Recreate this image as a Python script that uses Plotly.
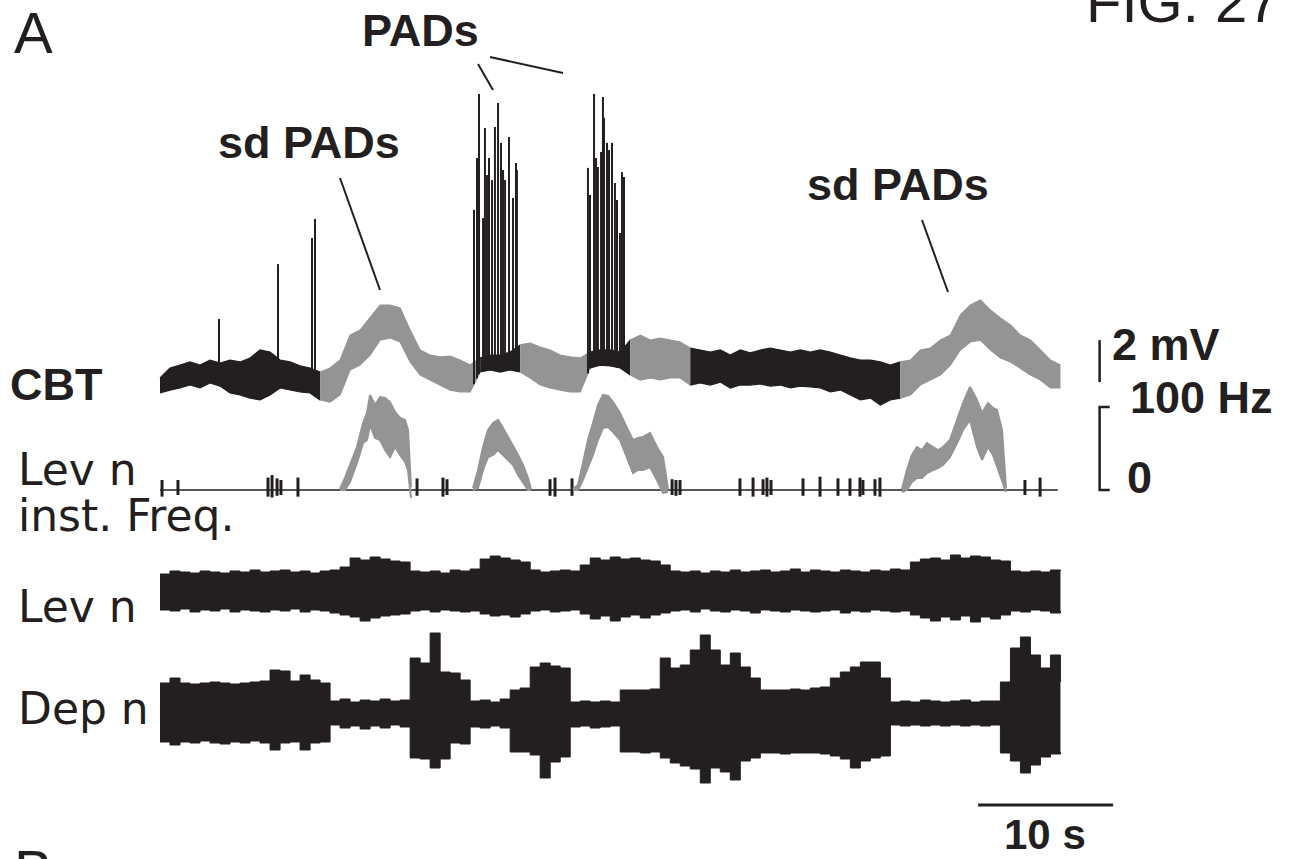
import numpy as np
import plotly.graph_objects as go

W, H = 1292, 859
BLACK = "#231f20"
GRAY = "#949494"

# ---------------- data ----------------
SWEEP_S = 66.7          # sweep duration (s)
N_SAMPLES = 91          # envelope samples across the sweep

# CBT (cord dorsum / root) potential envelope, mV
cbt_hi = [0.10, 0.57, 0.71, 0.86, 0.71, 0.95, 0.81, 0.95, 0.86, 1.05,
          1.43, 1.33, 0.95, 0.86, 0.67, 0.57, 0.38, 0.57, 0.95, 2.14,
          2.38, 2.95, 3.57, 3.57, 3.43, 2.38, 1.43, 1.19, 1.10, 1.14,
          0.95, 0.71, 1.05, 1.19, 1.19, 1.33, 1.67, 1.76, 1.57, 1.43,
          1.19, 1.10, 1.05, 1.33, 1.43, 1.43, 1.33, 1.90, 2.14, 1.90,
          2.00, 1.90, 1.81, 1.52, 1.43, 1.33, 1.43, 1.19, 1.43, 1.29,
          1.43, 1.52, 1.43, 1.33, 1.43, 1.33, 1.43, 1.33, 1.19, 1.05,
          0.95, 0.95, 0.86, 0.71, 0.86, 0.95, 1.43, 1.52, 1.90, 2.14,
          3.10, 3.57, 3.81, 3.33, 2.95, 2.62, 2.14, 1.90, 1.43, 0.95,
          0.71]
cbt_lo = [-0.62, -0.48, -0.38, -0.24, -0.38, -0.14, -0.29, -0.62, -0.71, -0.86,
          -0.95, -0.71, -0.38, -0.48, -0.57, -0.62, -0.95, -1.05, -0.71, 0.48,
          0.71, 1.19, 1.90, 2.00, 1.81, 0.86, 0.24, 0.00, -0.24, -0.48,
          -0.57, -0.57, 0.38, 0.48, 0.38, 0.48, 0.38, 0.10, -0.24, -0.38,
          -0.48, -0.57, -0.57, 0.57, 0.71, 0.67, 0.57, 0.24, 0.00, 0.10,
          0.00, 0.10, 0.10, -0.24, -0.14, -0.24, -0.10, -0.38, -0.24, -0.24,
          -0.19, -0.29, -0.24, -0.38, -0.29, -0.33, -0.38, -0.57, -0.48, -0.71,
          -0.95, -0.86, -1.19, -0.95, -0.86, -0.71, -0.24, 0.00, 0.24, 0.71,
          1.43, 1.81, 1.90, 1.43, 1.05, 0.86, 0.57, 0.24, 0.00, -0.38,
          -0.38]
# sd PAD episodes (drawn grey), s
sd_pad_intervals = [(11.6, 23.2), (26.5, 31.5), (34.6, 38.7), (54.8, 66.7)]

# PAD spikes on CBT: time (s), peak (mV)
spike_t = [4.37, 8.74, 11.26, 11.48,
           23.26, 23.48, 23.63, 23.93, 24.07, 24.22, 24.37, 24.59, 24.81, 25.04,
           25.26, 25.41, 25.56, 25.85, 26.15, 26.37, 26.44,
           31.70, 31.85, 32.15, 32.30, 32.44, 32.67, 32.81, 32.89, 33.11, 33.26,
           33.48, 33.70, 33.85, 34.07, 34.22, 34.37]
spike_mv = [2.90, 5.52, 6.76, 7.67,
            8.10, 10.57, 13.62, 7.71, 12.00, 9.76, 10.57, 9.52, 12.05, 13.19,
            11.29, 10.00, 9.52, 11.57, 8.67, 10.33, 10.00,
            10.10, 8.81, 13.62, 10.57, 10.14, 10.86, 13.48, 12.48, 11.29, 10.95,
            11.29, 9.38, 8.57, 7.00, 9.90, 9.67]

# Lev n instantaneous frequency: grey episodes (Hz envelope)
hump1_t = [13.33, 13.70, 14.07, 14.59, 15.04, 15.33, 15.56, 15.93, 16.30, 16.67,
           17.04, 17.41, 17.78, 18.15, 18.37, 18.59]
hump1_hi = [1.2, 14.5, 30.1, 51.8, 80.7, 92.8, 114.5, 102.4, 112.0, 110.8,
            106.0, 94.0, 86.8, 84.4, 72.3, 3.6]
hump1_lo = [0, 0, 9.6, 32.5, 56.6, 60.3, 78.3, 62.7, 60.3, 48.2,
            39.8, 51.8, 42.2, 33.7, 24.1, -9.6]
hump2_t = [23.19, 23.56, 23.93, 24.30, 24.67, 25.04, 25.41, 25.78, 26.15, 26.52,
           26.89, 27.26, 27.48]
hump2_hi = [2.4, 24.1, 51.8, 72.3, 80.7, 84.4, 74.7, 63.9, 54.2, 42.2, 30.1, 14.5, 1.2]
hump2_lo = [0, 2.4, 24.1, 39.8, 42.2, 48.2, 42.2, 36.2, 30.1, 18.1, 9.6, 0, 0]
hump3_t = [30.59, 30.96, 31.33, 31.70, 32.07, 32.44, 32.81, 33.19, 33.56, 34.07,
           34.59, 35.04, 35.41, 35.78, 36.30, 36.81, 37.26, 37.63]
hump3_hi = [1.2, 6.0, 32.5, 60.3, 80.7, 102.4, 114.5, 113.3, 106.0, 92.8,
            74.7, 60.3, 62.7, 63.9, 68.7, 51.8, 39.8, 1.2]
hump3_lo = [0, 0, 12.1, 26.5, 42.2, 60.3, 74.7, 75.9, 69.9, 60.3,
            38.6, 20.5, 24.1, 24.1, 27.7, 12.1, -3.6, -2.4]
hump4_t = [54.96, 55.33, 55.70, 56.07, 56.44, 56.81, 57.26, 57.63, 58.00, 58.52,
           59.04, 59.48, 60.00, 60.52, 60.89, 61.33, 61.70, 62.00, 62.37, 62.67]
hump4_hi = [1.2, 24.1, 42.2, 51.8, 48.2, 56.6, 51.8, 48.2, 51.8, 60.3,
            84.4, 104.8, 124.1, 108.4, 92.8, 104.8, 98.8, 96.4, 72.3, 2.4]
hump4_lo = [-2.4, 0, 9.6, 14.5, 14.5, 20.5, 24.1, 26.5, 30.1, 39.8,
            56.6, 72.3, 84.4, 51.8, 36.2, 51.8, 42.2, 27.7, 12.1, -2.4]

# isolated Lev n spikes in the frequency trace
blip_t = [0.15, 1.33, 8.00, 8.30, 8.67, 8.96, 10.22, 19.04, 20.96, 21.26,
          28.89, 29.26, 30.52, 37.93, 38.22, 38.52, 42.96, 43.93, 44.67, 44.96,
          45.26, 47.63, 48.89, 50.22, 51.11, 51.85, 52.07, 52.96, 53.33, 64.07,
          65.19]
blip_max_hz = [12, 12, 15, 18, 14, 12, 15, 14, 15, 13,
               13, 15, 14, 13, 12, 12, 14, 15, 13, 15,
               12, 14, 16, 14, 14, 15, 12, 13, 15, 12,
               15]
blip_min_hz = [-8, -6, -8, -9, -7, -6, -8, -7, -8, -6,
               -7, -8, -7, -6, -7, -6, -7, -8, -6, -8,
               -6, -7, -8, -7, -7, -8, -6, -7, -8, -6,
               -8]

# Lev n neurogram envelope (a.u.)
lev_hi = [1.7, 2.0, 1.9, 1.8, 2.0, 1.9, 1.8, 2.0, 1.9, 2.1,
          1.9, 2.0, 2.1, 1.9, 2.0, 1.8, 2.0, 2.1, 2.4, 3.3,
          3.1, 3.4, 3.2, 3.0, 2.9, 2.0, 1.9, 2.0, 1.8, 2.1,
          2.0, 2.2, 3.2, 3.5, 3.3, 3.1, 2.9, 2.1, 1.9, 2.0,
          2.1, 2.0, 2.6, 3.3, 3.1, 3.4, 3.2, 3.3, 3.1, 3.0,
          2.6, 2.0, 1.9, 2.0, 1.8, 2.0, 1.9, 2.1, 1.9, 2.0,
          2.1, 1.9, 2.0, 2.2, 1.9, 2.1, 2.0, 1.9, 2.1, 2.0,
          1.9, 2.1, 2.0, 2.2, 2.1, 2.9, 3.2, 3.3, 3.1, 3.6,
          3.3, 3.5, 3.4, 3.1, 3.0, 2.0, 1.9, 2.0, 1.9, 2.1,
          2.0]
lev_lo = [-1.9, -2.0, -1.8, -2.1, -1.9, -2.0, -1.8, -2.1, -1.9, -2.0,
          -2.1, -1.9, -2.0, -1.8, -2.1, -1.9, -2.0, -2.2, -2.4, -2.6,
          -3.0, -2.7, -2.5, -2.4, -2.3, -2.0, -1.9, -2.1, -1.9, -2.0,
          -2.1, -2.0, -2.3, -2.5, -2.4, -2.6, -2.3, -2.0, -1.9, -2.1,
          -2.0, -1.9, -2.3, -2.8, -2.5, -3.0, -2.6, -2.4, -2.7, -2.4,
          -2.2, -2.0, -1.9, -2.1, -1.8, -2.0, -2.1, -1.9, -2.0, -2.2,
          -1.9, -2.0, -2.1, -1.9, -2.0, -2.1, -2.0, -1.9, -2.2, -2.0,
          -2.1, -1.9, -2.0, -2.1, -2.0, -2.4, -2.7, -3.0, -2.6, -2.9,
          -2.5, -3.1, -2.6, -2.8, -2.4, -2.0, -2.1, -1.9, -2.0, -2.2,
          -2.0]

# Dep n neurogram envelope (a.u.)
dep_hi = [3.0, 3.5, 3.0, 2.9, 3.0, 3.1, 3.0, 2.9, 3.0, 3.1,
          3.2, 4.3, 4.2, 3.2, 3.8, 3.3, 3.0, 1.2, 1.4, 1.1,
          1.3, 1.2, 1.4, 1.2, 1.3, 5.5, 5.0, 8.0, 4.1, 4.0,
          3.3, 1.2, 1.3, 1.1, 1.4, 2.3, 2.5, 4.6, 5.0, 4.7,
          4.5, 1.1, 1.2, 1.1, 1.2, 1.1, 2.3, 2.3, 2.3, 2.4,
          5.5, 4.5, 4.8, 6.3, 7.8, 6.3, 4.8, 6.0, 4.6, 3.5,
          2.3, 2.3, 2.3, 2.4, 2.3, 2.5, 2.6, 3.5, 4.1, 4.6,
          5.1, 5.1, 3.5, 1.1, 1.2, 1.1, 1.3, 1.2, 1.1, 1.2,
          1.3, 1.1, 1.2, 1.2, 3.1, 6.5, 7.6, 5.8, 4.5, 5.8,
          3.1]
dep_lo = [-2.9, -3.2, -2.9, -3.0, -2.8, -3.0, -3.1, -2.9, -3.0, -2.8,
          -3.0, -3.7, -3.0, -2.9, -3.7, -3.0, -2.9, -1.2, -1.5, -1.3,
          -1.6, -1.3, -1.5, -1.2, -1.4, -4.5, -4.6, -5.5, -4.6, -3.0,
          -3.1, -1.4, -1.5, -1.3, -1.5, -3.9, -3.9, -4.2, -6.5, -4.9,
          -4.4, -1.4, -1.3, -1.5, -1.4, -1.3, -3.9, -3.9, -4.0, -3.9,
          -4.5, -5.0, -5.3, -5.6, -7.0, -5.5, -5.9, -6.7, -4.8, -4.5,
          -4.0, -4.0, -4.1, -4.0, -4.0, -4.0, -4.1, -4.3, -4.6, -5.5,
          -4.8, -4.5, -4.3, -1.2, -1.3, -1.2, -1.3, -1.2, -1.3, -1.2,
          -1.3, -1.2, -1.3, -1.2, -4.0, -4.8, -6.0, -5.2, -4.4, -4.1,
          -3.9]

SCALE_MV = 2.0
SCALE_HZ = 100.0
SCALE_S = 10.0

# ---------------- figure ----------------
t = np.linspace(0, SWEEP_S, N_SAMPLES)
fig = go.Figure()


def band(x, lo, hi, color, yaxis, shape="linear", lw=1.0):
    fig.add_trace(go.Scatter(x=x, y=lo, mode="lines", yaxis=yaxis,
                             line=dict(color=color, width=lw, shape=shape),
                             hoverinfo="skip", showlegend=False))
    fig.add_trace(go.Scatter(x=x, y=hi, mode="lines", yaxis=yaxis, fill="tonexty",
                             fillcolor=color,
                             line=dict(color=color, width=lw, shape=shape),
                             hoverinfo="skip", showlegend=False))


# CBT: split into black / grey runs
is_gray = np.array([any(a <= ti <= b for a, b in sd_pad_intervals) for ti in t])
runs = []
start = 0
for i in range(1, len(t) + 1):
    if i == len(t) or is_gray[i] != is_gray[start]:
        runs.append((start, i, is_gray[start]))
        start = i
hi_arr, lo_arr = np.array(cbt_hi), np.array(cbt_lo)
for s, e, g in runs:
    e2 = min(e + 1, len(t))
    band(t[s:e2], lo_arr[s:e2], hi_arr[s:e2], GRAY if g else BLACK, "y", "linear", 1.2)

# PAD spikes
base = np.interp(spike_t, t, cbt_lo)
sx, sy = [], []
for ts, b, p in zip(spike_t, base, spike_mv):
    sx += [ts, ts, None]
    sy += [b, p, None]
fig.add_trace(go.Scatter(x=sx, y=sy, mode="lines", yaxis="y",
                         line=dict(color=BLACK, width=2.0),
                         hoverinfo="skip", showlegend=False))

# Instantaneous frequency
fig.add_trace(go.Scatter(x=[0, SWEEP_S - 0.2], y=[0, 0], mode="lines", yaxis="y2",
                         line=dict(color=BLACK, width=1.5),
                         hoverinfo="skip", showlegend=False))
bx, by = [], []
for tb, mx, mn in zip(blip_t, blip_max_hz, blip_min_hz):
    bx += [tb, tb, None]
    by += [mn, mx, None]
fig.add_trace(go.Scatter(x=bx, y=by, mode="lines", yaxis="y2",
                         line=dict(color=BLACK, width=3),
                         hoverinfo="skip", showlegend=False))
for ht, hh, hl in [(hump1_t, hump1_hi, hump1_lo), (hump2_t, hump2_hi, hump2_lo),
                   (hump3_t, hump3_hi, hump3_lo), (hump4_t, hump4_hi, hump4_lo)]:
    band(ht, hl, hh, GRAY, "y2", "linear", 2.0)

# Neurograms
band(t, lev_lo, lev_hi, BLACK, "y3", "hv", 1.0)
band(t, dep_lo, dep_hi, BLACK, "y4", "hv", 1.0)

# ---------------- layout ----------------
px_per_s = 13.5
x0_px = 160
xr = [-x0_px / px_per_s, (W - x0_px) / px_per_s]


def yr(zero_px, px_per_unit):
    return [(zero_px - H) / px_per_unit, zero_px / px_per_unit]


ax_common = dict(visible=False, fixedrange=True, domain=[0, 1])
fig.update_layout(
    width=W, height=H, autosize=False,
    margin=dict(l=0, r=0, t=0, b=0, pad=0),
    paper_bgcolor="white", plot_bgcolor="white",
    showlegend=False,
    xaxis=dict(range=xr, visible=False, fixedrange=True),
    yaxis=dict(range=yr(380, 21.0), **ax_common),
    yaxis2=dict(range=yr(490, 0.83), overlaying="y", **ax_common),
    yaxis3=dict(range=yr(591, 10.0), overlaying="y", **ax_common),
    yaxis4=dict(range=yr(713, 10.0), overlaying="y", **ax_common),
)


def P(px, py):
    return px / W, 1 - py / H


BOLD = dict(family="Liberation Sans, Arial, sans-serif", size=45, color=BLACK)
BOLD_S = dict(family="Liberation Sans, Arial, sans-serif", size=42, color=BLACK)
REG = dict(family="DejaVu Sans, sans-serif", size=44, color=BLACK)
THIN = dict(family="Liberation Sans Narrow, Liberation Sans, sans-serif", size=58, color=BLACK)

ann = []


def text(s, px, py, font, xa="center", ya="middle"):
    x, y = P(px, py)
    ann.append(dict(x=x, y=y, xref="paper", yref="paper", text=s, showarrow=False,
                    font=font, xanchor=xa, yanchor=ya))


text("A", 12, 32, THIN, "left")
text("FIG. 27", 1084, 1, THIN, "left")
text("<b>PADs</b>", 420, 30, BOLD)
text("<b>sd PADs</b>", 309, 142, BOLD)
text("<b>sd PADs</b>", 898, 184, BOLD)
text("<b>CBT</b>", 8, 385, BOLD, "left")
text("Lev n", 16, 469, REG, "left")
text("inst. Freq.", 16, 515, REG, "left")
text("Lev n", 16, 606, REG, "left")
text("Dep n", 16, 708, REG, "left")
text("<b>2 mV</b>", 1110, 344, BOLD, "left")
text("<b>100 Hz</b>", 1128, 397, BOLD, "left")
text("<b>0</b>", 1125, 478, BOLD, "left")
text("<b>10 s</b>", 1045, 834, BOLD_S)
text("B", 12, 870, THIN, "left")

shapes = []


def pline(a, b, c, d, w=2):
    x0, y0 = P(a, b)
    x1, y1 = P(c, d)
    shapes.append(dict(type="line", xref="paper", yref="paper", x0=x0, y0=y0,
                       x1=x1, y1=y1, line=dict(color=BLACK, width=w)))


pline(478, 64, 493, 90)
pline(490, 57, 563, 73)
pline(340, 178, 380, 290)
pline(922, 220, 948, 292)

# scale bars in data units
bar_t = 69.6
shapes.append(dict(type="line", xref="x", yref="y", x0=bar_t, x1=bar_t,
                   y0=-0.1, y1=-0.1 + SCALE_MV, line=dict(color=BLACK, width=2.5)))
shapes.append(dict(type="path", xref="x", yref="y2",
                   path=f"M {bar_t + 0.75},{SCALE_HZ} L {bar_t},{SCALE_HZ} L {bar_t},0 L {bar_t + 0.75},0",
                   line=dict(color=BLACK, width=2.5)))
ty = 1 - 805 / H
shapes.append(dict(type="line", xref="x", yref="paper", x0=60.6, x1=60.6 + SCALE_S,
                   y0=ty, y1=ty, line=dict(color=BLACK, width=3)))

fig.update_layout(annotations=ann, shapes=shapes)

fig.write_html("out.html", config={"displayModeBar": False},
               post_script="document.body.style.margin='0';document.body.style.overflow='hidden';")
